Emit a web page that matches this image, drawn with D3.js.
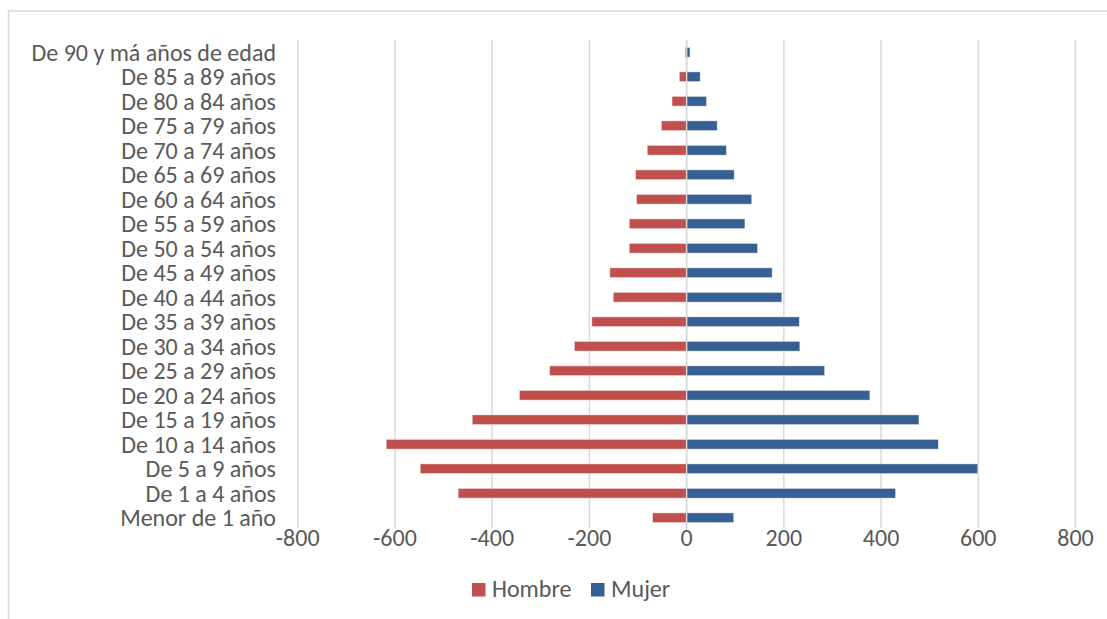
<!DOCTYPE html>
<html>
<head>
<meta charset="utf-8">
<script src="https://cdn.jsdelivr.net/npm/d3@7"></script>
<style>
  body { margin: 0; background: #fff; }
  text { font-family: Carlito, "Liberation Sans", Arial, sans-serif; fill: #595959; }
</style>
</head>
<body>
<svg id="chart" width="1107" height="619"></svg>
<script>
// Age groups, bottom to top as in the chart
const AGE_GROUPS = [
  "Menor de 1 año", "De 1 a 4 años", "De 5 a 9 años", "De 10 a 14 años",
  "De 15 a 19 años", "De 20 a 24 años", "De 25 a 29 años", "De 30 a 34 años",
  "De 35 a 39 años", "De 40 a 44 años", "De 45 a 49 años", "De 50 a 54 años",
  "De 55 a 59 años", "De 60 a 64 años", "De 65 a 69 años", "De 70 a 74 años",
  "De 75 a 79 años", "De 80 a 84 años", "De 85 a 89 años", "De 90 y má años de edad"
];

// Hombre plotted as negative values
const HOMBRE = [-70, -470, -548, -618, -441, -344, -282, -231, -195, -151,
  -158, -118, -118, -103, -105, -81, -52, -30, -15, -3];
const MUJER = [97, 430, 599, 518, 478, 377, 284, 233, 232, 196,
  176, 146, 120, 134, 98, 82, 63, 41, 28, 7];

const X_TICKS = [-800, -600, -400, -200, 0, 200, 400, 600, 800];

const SERIES = [
  { name: "Hombre", values: HOMBRE, color: "#C0504D" },
  { name: "Mujer", values: MUJER, color: "#376092" }
];

let svg = d3.select('#chart');

// chart frame
svg.append('rect')
  .attr('x', 8.5).attr('y', 11)
  .attr('width', 1200).attr('height', 700)
  .attr('fill', 'none')
  .attr('stroke', '#D9D9D9')
  .attr('stroke-width', 1.5);

let x = d3.scaleLinear()
  .domain([-800, 800])
  .range([297.7, 1075.5]);

let y = d3.scaleBand()
  .domain(AGE_GROUPS.slice().reverse())
  .range([40, 530])
  .paddingInner(0.6)
  .paddingOuter(0.3);

// gridlines
svg.append('g')
  .selectAll('line')
  .data(X_TICKS)
  .enter()
  .append('line')
  .attr('x1', d => x(d)).attr('x2', d => x(d))
  .attr('y1', 40).attr('y2', 528)
  .attr('stroke', '#D9D9D9')
  .attr('stroke-width', 1.5);

// bars
SERIES.forEach(s => {
  svg.append('g')
    .selectAll('rect')
    .data(s.values.map((v, i) => ({ v: v, cat: AGE_GROUPS[i] })))
    .enter()
    .append('rect')
    .attr('x', d => Math.min(x(0), x(d.v)))
    .attr('width', d => Math.abs(x(d.v) - x(0)))
    .attr('y', d => y(d.cat))
    .attr('height', y.bandwidth())
    .attr('fill', s.color)
    .attr('stroke', 'rgba(255,255,255,0.6)')
    .attr('stroke-width', 0.8);
});

// vertical axis line at 0
svg.append('line')
  .attr('x1', x(0)).attr('x2', x(0))
  .attr('y1', 40).attr('y2', 530)
  .attr('stroke', '#D9D9D9')
  .attr('stroke-width', 1.5);

// category labels
svg.append('g')
  .selectAll('text')
  .data(AGE_GROUPS)
  .enter()
  .append('text')
  .attr('x', 276)
  .attr('y', d => y(d) + y.bandwidth() / 2)
  .attr('dy', '0.35em')
  .attr('text-anchor', 'end')
  .style('font-size', '24px')
  .text(d => d);

// x tick labels
svg.append('g')
  .selectAll('text')
  .data(X_TICKS)
  .enter()
  .append('text')
  .attr('x', d => x(d))
  .attr('y', 537.5)
  .attr('dy', '0.35em')
  .attr('text-anchor', 'middle')
  .style('font-size', '24px')
  .text(d => d);

// legend
let legendPos = [472, 591];
let legend = svg.append('g')
  .selectAll('g')
  .data(SERIES)
  .enter()
  .append('g')
  .attr('transform', (d, i) => `translate(${legendPos[i]}, 590)`);

legend.append('rect')
  .attr('x', 0).attr('y', -7)
  .attr('width', 13.5).attr('height', 13.5)
  .attr('fill', d => d.color);

legend.append('text')
  .attr('x', 20)
  .attr('dy', '0.3em')
  .style('font-size', '24px')
  .text(d => d.name);
</script>
</body>
</html>
